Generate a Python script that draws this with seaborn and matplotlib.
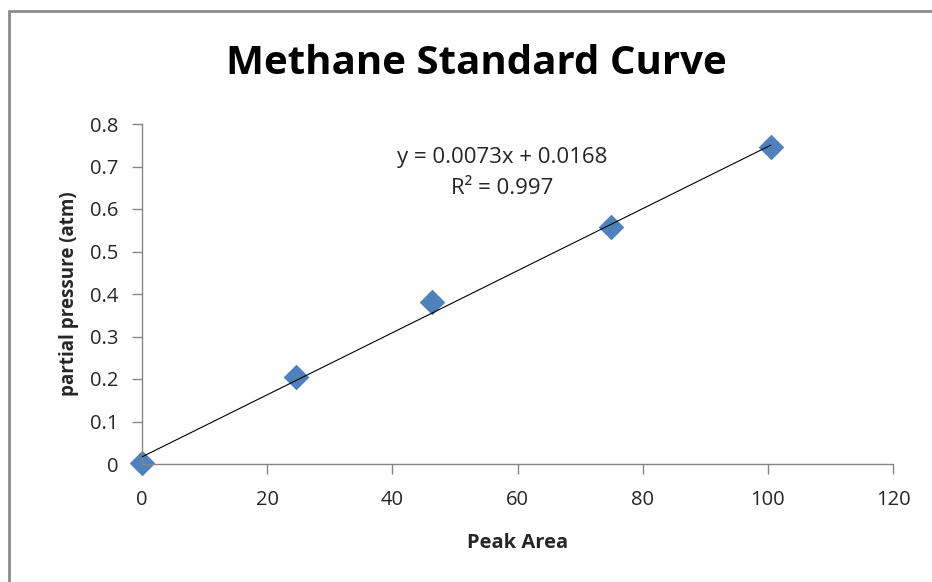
import numpy as np
import pandas as pd
import matplotlib
matplotlib.use("Agg")
import matplotlib.pyplot as plt
from matplotlib.lines import Line2D
import seaborn as sns

# Calibration standards: peak area vs. partial pressure of methane
peak_area = [0.0, 24.6, 46.3, 74.9, 100.5]
partial_pressure = [0.002, 0.205, 0.381, 0.558, 0.746]

# Linear trendline coefficients as reported on the chart
slope = 0.0073
intercept = 0.0168
r_squared = 0.997

x_ticks = [0, 20, 40, 60, 80, 100, 120]
y_ticks = [0, 0.1, 0.2, 0.3, 0.4, 0.5, 0.6, 0.7, 0.8]
y_tick_labels = ["0", "0.1", "0.2", "0.3", "0.4", "0.5", "0.6", "0.7", "0.8"]

sns.set_theme(style="white")
plt.rcParams["font.family"] = ["Open Sans", "DejaVu Sans"]

axis_grey = "#868686"
text_col = "#262626"

df = pd.DataFrame({"Peak Area": peak_area, "partial pressure (atm)": partial_pressure})

fig = plt.figure(figsize=(9.32, 5.82), dpi=100)
ax = fig.add_axes([142 / 932, 1 - 464 / 582, (893 - 142) / 932, (464 - 124) / 582])

# Trendline across the measured range
x_fit = np.array([min(peak_area), max(peak_area)])
sns.lineplot(x=x_fit, y=slope * x_fit + intercept, ax=ax, color="black",
             linewidth=0.8, zorder=3)

sns.scatterplot(data=df, x="Peak Area", y="partial pressure (atm)", ax=ax,
                marker="D", s=170, color="#4F81BD", edgecolor="#4F81BD",
                linewidth=0, zorder=2, clip_on=False)

ax.set_xlim(0, 120)
ax.set_ylim(0, 0.8)
ax.set_xticks(x_ticks)
ax.set_xticklabels([str(t) for t in x_ticks])
ax.set_yticks(y_ticks)
ax.set_yticklabels(y_tick_labels)

for side in ["top", "right"]:
    ax.spines[side].set_visible(False)
for side in ["left", "bottom"]:
    ax.spines[side].set_color(axis_grey)
    ax.spines[side].set_linewidth(1.0)

ax.tick_params(axis="both", which="major", direction="out", length=7,
               width=1.0, color=axis_grey, labelsize=14.5, labelcolor=text_col,
               bottom=True, left=True)
ax.tick_params(axis="x", pad=12)
ax.tick_params(axis="y", pad=10)

ax.set_xlabel("Peak Area", fontsize=14.5, fontweight="bold", color=text_col,
              labelpad=16)
ax.set_ylabel("partial pressure (atm)", fontsize=13.5, fontweight="bold",
              color=text_col, labelpad=8)

fig.text(476 / 932, 1 - 63 / 582, "Methane Standard Curve", ha="center",
         va="center", fontsize=29, fontweight="bold", color="black")

ax.text(0.48, 0.90, f"y = {slope}x + {intercept}", transform=ax.transAxes,
        ha="center", va="center", fontsize=16, color=text_col)
ax.text(0.48, 0.81, f"R² = {r_squared}", transform=ax.transAxes,
        ha="center", va="center", fontsize=16, color=text_col)

# Chart-area frame edges
fig.add_artist(Line2D([9 / 932, 9 / 932], [0, 1 - 11 / 582],
                      transform=fig.transFigure, color="#8c8c8c", linewidth=2))
fig.add_artist(Line2D([9 / 932, 1], [1 - 11 / 582, 1 - 11 / 582],
                      transform=fig.transFigure, color="#8c8c8c", linewidth=2))

fig.savefig("out.png", dpi=100, facecolor="white")
